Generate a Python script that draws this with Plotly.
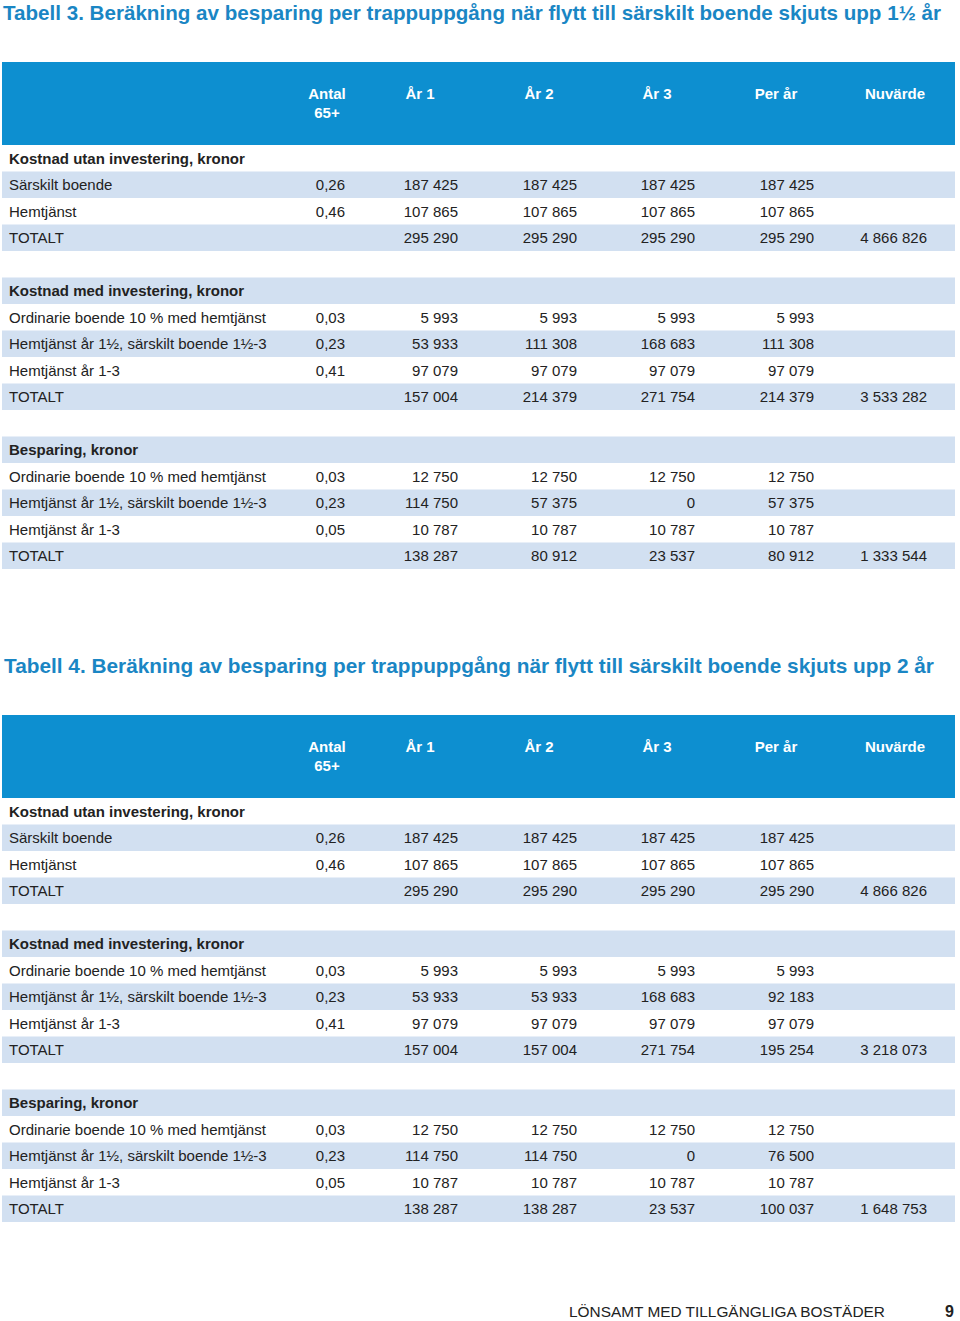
import plotly.graph_objects as go

W, H = 960, 1321

# ---------------- data ----------------
header_line1 = ["Antal", "År 1", "År 2", "År 3", "Per år", "Nuvärde"]
header_line2 = ["65+", "", "", "", "", ""]

row_labels = [
    "<b>Kostnad utan investering, kronor</b>", "Särskilt boende", "Hemtjänst", "TOTALT", "",
    "<b>Kostnad med investering, kronor</b>", "Ordinarie boende 10 % med hemtjänst",
    "Hemtjänst år 1½, särskilt boende 1½-3", "Hemtjänst år 1-3", "TOTALT", "",
    "<b>Besparing, kronor</b>", "Ordinarie boende 10 % med hemtjänst",
    "Hemtjänst år 1½, särskilt boende 1½-3", "Hemtjänst år 1-3", "TOTALT",
]
antal = [None, 0.26, 0.46, None, None, None, 0.03, 0.23, 0.41, None, None, None, 0.03, 0.23, 0.05, None]

# Tabell 3
t3_ar1 = [None, 187425, 107865, 295290, None, None, 5993, 53933, 97079, 157004, None, None, 12750, 114750, 10787, 138287]
t3_ar2 = [None, 187425, 107865, 295290, None, None, 5993, 111308, 97079, 214379, None, None, 12750, 57375, 10787, 80912]
t3_ar3 = [None, 187425, 107865, 295290, None, None, 5993, 168683, 97079, 271754, None, None, 12750, 0, 10787, 23537]
t3_perar = [None, 187425, 107865, 295290, None, None, 5993, 111308, 97079, 214379, None, None, 12750, 57375, 10787, 80912]
t3_nuv = [None, None, None, 4866826, None, None, None, None, None, 3533282, None, None, None, None, None, 1333544]

# Tabell 4
t4_ar1 = [None, 187425, 107865, 295290, None, None, 5993, 53933, 97079, 157004, None, None, 12750, 114750, 10787, 138287]
t4_ar2 = [None, 187425, 107865, 295290, None, None, 5993, 53933, 97079, 157004, None, None, 12750, 114750, 10787, 138287]
t4_ar3 = [None, 187425, 107865, 295290, None, None, 5993, 168683, 97079, 271754, None, None, 12750, 0, 10787, 23537]
t4_perar = [None, 187425, 107865, 295290, None, None, 5993, 92183, 97079, 195254, None, None, 12750, 76500, 10787, 100037]
t4_nuv = [None, None, None, 4866826, None, None, None, None, None, 3218073, None, None, None, None, None, 1648753]

title3 = "Tabell 3. Beräkning av besparing per trappuppgång när flytt till särskilt boende skjuts upp 1½ år"
title4 = "Tabell 4. Beräkning av besparing per trappuppgång när flytt till särskilt boende skjuts upp 2 år"
footer = "LÖNSAMT MED TILLGÄNGLIGA BOSTÄDER"
page_no = "9"

# ---------------- layout constants ----------------
FONT = "Liberation Sans, Arial, Helvetica, sans-serif"
HEAD_BLUE = "#0d8fd0"
LIGHT = "#d2e0f1"
TITLE_BLUE = "#1a86c4"
TXT = "#222222"

X0, X1 = 2, 955          # table left / right edge
HEADER_H = 83
ROW_H = 26.5
TEXT_DY = 1.5
LABEL_X = 9
VALUE_RIGHT = [345, 458, 577, 695, 814, 927]   # right edge of value columns
HEADER_CENTER = [327, 420, 539, 657, 776, 895]


def fi(v):
    return "" if v is None else f"{v:,}".replace(",", " ")


def fd(v):
    return "" if v is None else f"{v:.2f}".replace(".", ",")


fig = go.Figure()


def add_table(top, ar1, ar2, ar3, perar, nuv):
    n = len(row_labels)
    centers = [top + HEADER_H + ROW_H * (i + 0.5) for i in range(n)]
    text_y = [c + TEXT_DY for c in centers]
    # header band
    fig.add_trace(go.Bar(
        orientation="h", y=[top + HEADER_H / 2], x=[X1 - X0], base=[X0], width=[HEADER_H],
        marker=dict(color=HEAD_BLUE, line=dict(width=0)), hoverinfo="skip", showlegend=False))
    # row bands
    fills = ["rgba(0,0,0,0)" if i % 2 == 0 else LIGHT for i in range(n)]
    fig.add_trace(go.Bar(
        orientation="h", y=centers, x=[X1 - X0] * n, base=[X0] * n, width=[ROW_H] * n,
        marker=dict(color=fills, line=dict(width=0)), hoverinfo="skip", showlegend=False))
    # header texts
    fig.add_trace(go.Scatter(
        x=HEADER_CENTER, y=[top + 33] * 6, mode="text",
        text=["<b>" + t + "</b>" for t in header_line1], textposition="middle center",
        textfont=dict(family=FONT, size=15, color="white"), hoverinfo="skip", showlegend=False))
    fig.add_trace(go.Scatter(
        x=HEADER_CENTER, y=[top + 52] * 6, mode="text",
        text=["<b>" + t + "</b>" if t else "" for t in header_line2], textposition="middle center",
        textfont=dict(family=FONT, size=15, color="white"), hoverinfo="skip", showlegend=False))
    # row labels
    fig.add_trace(go.Scatter(
        x=[LABEL_X] * n, y=text_y, mode="text", text=row_labels, textposition="middle right",
        textfont=dict(family=FONT, size=15, color=TXT), hoverinfo="skip", showlegend=False))
    # values
    cols = [[fd(v) for v in antal]] + [[fi(v) for v in c] for c in (ar1, ar2, ar3, perar, nuv)]
    for xr, col in zip(VALUE_RIGHT, cols):
        fig.add_trace(go.Scatter(
            x=[xr] * n, y=text_y, mode="text", text=col, textposition="middle left",
            textfont=dict(family=FONT, size=15, color=TXT), hoverinfo="skip", showlegend=False))


add_table(62, t3_ar1, t3_ar2, t3_ar3, t3_perar, t3_nuv)
add_table(715, t4_ar1, t4_ar2, t4_ar3, t4_perar, t4_nuv)

ann = [
    dict(text="<b>" + title3 + "</b>", x=2 / W, y=1, xanchor="left", yanchor="top", borderpad=0,
         font=dict(family=FONT, size=20.6, color=TITLE_BLUE)),
    dict(text="<b>" + title4 + "</b>", x=2 / W, y=1 - 665 / H, xanchor="left", yanchor="middle",
         font=dict(family=FONT, size=20.8, color=TITLE_BLUE)),
    dict(text=footer, x=568 / W, y=0, xanchor="left", yanchor="bottom", borderpad=0,
         font=dict(family=FONT, size=15.4, color=TXT)),
    dict(text="<b>" + page_no + "</b>", x=955 / W, y=0, xanchor="right", yanchor="bottom", borderpad=0,
         font=dict(family=FONT, size=16, color=TXT)),
]
for a in ann:
    a.update(xref="paper", yref="paper", showarrow=False)

fig.update_layout(
    width=W, height=H,
    margin=dict(l=0, r=0, t=0, b=0),
    paper_bgcolor="white", plot_bgcolor="white",
    annotations=ann,
    barmode="overlay",
    xaxis=dict(range=[0, W], visible=False, fixedrange=True),
    yaxis=dict(range=[H, 0], visible=False, fixedrange=True),
)

fig.write_html("out.html", config={"displayModeBar": False},
               post_script="document.body.style.margin='0';")
